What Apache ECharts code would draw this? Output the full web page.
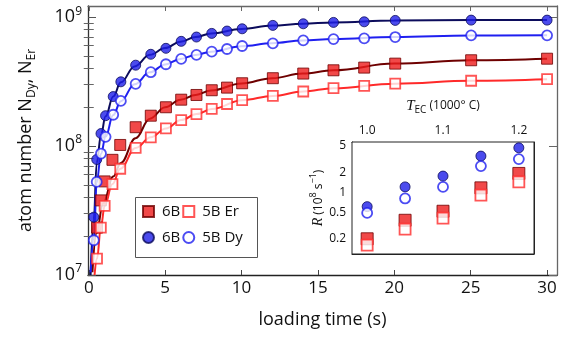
<!DOCTYPE html>
<html><head><meta charset="utf-8">
<script src="https://cdn.jsdelivr.net/npm/echarts@6/dist/echarts.min.js"></script>
<style>html,body{margin:0;padding:0;background:#fff}#c{width:568px;height:337px}</style>
</head><body><div id="c"></div>
<script>
const FONT = "'Open Sans', sans-serif";
const SERIF = "'Liberation Serif', 'DejaVu Serif', serif";

// ---- main panel: loading curves ----
const tDy  = [0.33,0.52,0.8,1.1,1.6,2.1,3.07,4.06,5.05,6.05,7.05,8.05,9.05,10.04,12.05,14.04,16.02,18.03,20.06,25.03,30];
const dy6B = [2.81e7,7.87e7,1.25e8,1.72e8,2.42e8,3.15e8,4.24e8,5.15e8,5.73e8,6.49e8,7.01e8,7.48e8,7.80e8,8.12e8,8.63e8,8.88e8,9.10e8,9.20e8,9.43e8,9.48e8,9.48e8];
const dy5B = [1.86e7,5.27e7,8.75e7,1.18e8,1.75e8,2.24e8,3.04e8,3.74e8,4.31e8,4.74e8,5.09e8,5.40e8,5.66e8,5.97e8,6.26e8,6.61e8,6.76e8,6.85e8,7.01e8,7.22e8,7.22e8];
const tEr  = [0.54,0.79,1.04,1.55,2.06,3.07,4.06,5.05,6.05,7.05,8.05,9.05,10.04,12.05,14.04,16.02,18.03,20.06,25.03,30];
const er6B = [2.33e7,3.79e7,5.32e7,7.82e7,1.02e8,1.40e8,1.72e8,2.00e8,2.29e8,2.49e8,2.71e8,2.84e8,3.07e8,3.36e8,3.65e8,3.87e8,4.06e8,4.36e8,4.63e8,4.76e8];
const er5B = [1.34e7,2.33e7,3.44e7,5.07e7,6.67e7,9.68e7,1.17e8,1.37e8,1.59e8,1.77e8,1.94e8,2.12e8,2.27e8,2.45e8,2.65e8,2.81e8,2.93e8,3.05e8,3.21e8,3.30e8];

// fitted curves
const fitDyT   = [0.12,0.33,0.52,0.8,1.1,1.6,2.1,3,4,5,6,7,8,10,12,14,16,20,25,30];
const fit6BDy  = [1.0e7,2.7e7,7.4e7,1.22e8,1.70e8,2.42e8,3.12e8,4.15e8,5.1e8,5.75e8,6.45e8,7.0e8,7.48e8,8.1e8,8.6e8,8.88e8,9.1e8,9.4e8,9.48e8,9.5e8];
const fit5BDy  = [1.05e7,1.9e7,5.2e7,8.7e7,1.18e8,1.74e8,2.23e8,3.02e8,3.73e8,4.3e8,4.74e8,5.09e8,5.40e8,5.95e8,6.27e8,6.6e8,6.76e8,7.01e8,7.2e8,7.22e8];
const fitEr6BT = [0.24,0.5,0.94,1.6,2.1,3.06,4,5,6,7,8,10,12,14,16,20,25,30];
const fit6BEr  = [1.05e7,2.1e7,3.6e7,5.8e7,7.4e7,1.15e8,1.63e8,2.0e8,2.29e8,2.49e8,2.7e8,3.06e8,3.36e8,3.65e8,3.87e8,4.36e8,4.63e8,4.76e8];
const fitEr5BT = [0.38,0.54,0.79,1.04,1.55,2.06,3.07,4.06,5.05,6.05,7.05,8.05,10.04,12.05,14.04,16.02,20.06,25.03,30];
const fit5BEr  = [1.0e7,1.34e7,2.33e7,3.44e7,5.07e7,6.67e7,9.68e7,1.17e8,1.37e8,1.59e8,1.77e8,1.94e8,2.27e8,2.45e8,2.65e8,2.81e8,3.05e8,3.21e8,3.30e8];

// ---- inset: loading rate vs oven temperature ----
const tec   = [1.0,1.05,1.1,1.15,1.2];
const rDy6B = [0.61,1.21,1.76,3.52,4.69];
const rDy5B = [0.49,0.81,1.21,2.49,3.17];
const rEr6B = [0.20,0.38,0.52,1.17,1.93];
const rEr5B = [0.16,0.28,0.41,0.91,1.44];

// ---- ticks ----
const xTicks = [0,5,10,15,20,25,30];
const yMajor = [1e7,1e8,1e9];
const yMinor = [2e7,3e7,4e7,5e7,6e7,7e7,8e7,9e7,2e8,3e8,4e8,5e8,6e8,7e8,8e8,9e8];
const insetXTicks = [1.0,1.1,1.2];
const insetYLabels = [0.2,0.5,1,2,5];
const insetYMinor = [0.3,0.4,0.6,0.7,0.8,0.9,3,4];

const zip = (xs, ys) => xs.map((x, i) => [x, ys[i]]);

const NAVY = '#0c0c5c', BLUE = '#1f1ff0', MAROON = '#6e0000', RED = '#ff2a2a';
const FILLBLUE = '#1e1ee8', FILLRED = '#ee1c1c';

const mainX = {min: -0.05, max: 30.65};
const mainY = {min: 1e7, max: 1.22e9};
const insX = {min: 0.98, max: 1.22};
const insY = {min: 0.118, max: 5.74};

const noSplit = {show: false};
const legendCommon = {
  orient: 'horizontal', padding: 0, itemWidth: 11, itemHeight: 11, itemGap: 2, selectedMode: false,
  formatter: n => n.indexOf('6B') === 0 ? '6B' : n,
  textStyle: {fontSize: 15, color: '#111', fontFamily: FONT, padding: [0, 0, 0, 3]}
};
const option = {
  animation: false,
  backgroundColor: '#fff',
  textStyle: {fontFamily: FONT},
  grid: [
    {left: 88, top: 6, right: 11, bottom: 62, show: false},
    {left: 352, top: 142, width: 182, height: 112, show: true, backgroundColor: '#fff', borderColor: '#222', borderWidth: 1, z: 5}
  ],
  xAxis: [
    {gridIndex: 0, type: 'value', position: 'bottom', ...mainX,
      axisLine: {show: true, onZero: false, lineStyle: {color: '#222', width: 1.3}},
      axisTick: {show: true, inside: true, length: 5, customValues: xTicks, lineStyle: {color: '#444'}},
      axisLabel: {customValues: xTicks, fontSize: 17, color: '#111', margin: 5, fontFamily: FONT},
      splitLine: noSplit,
      name: 'loading time (s)', nameLocation: 'middle', nameGap: 36,
      nameTextStyle: {fontSize: 18, color: '#111', fontFamily: FONT}},
    {gridIndex: 0, type: 'value', position: 'top', ...mainX,
      axisLine: {show: true, onZero: false, lineStyle: {color: '#666', width: 1.3}},
      axisTick: {show: true, inside: true, length: 5, customValues: xTicks, lineStyle: {color: '#666'}},
      axisLabel: {show: false}, splitLine: noSplit},
    {gridIndex: 1, type: 'value', position: 'bottom', ...insX,
      axisLine: {show: true, onZero: false, lineStyle: {color: '#222'}},
      axisTick: {show: true, inside: true, length: 4, customValues: insetXTicks, lineStyle: {color: '#555'}},
      axisLabel: {show: false}, splitLine: noSplit},
    {gridIndex: 1, type: 'value', position: 'top', ...insX,
      axisLine: {show: true, onZero: false, lineStyle: {color: '#222'}},
      axisTick: {show: true, inside: true, length: 4, customValues: insetXTicks, lineStyle: {color: '#555'}},
      axisLabel: {customValues: insetXTicks, formatter: v => v.toFixed(1), fontSize: 12, color: '#111', margin: 5},
      splitLine: noSplit,
      name: '{t|T}{sub|EC}{n| (1000° C)}', nameLocation: 'middle', nameGap: 27,
      nameTextStyle: {rich: {
        t: {fontFamily: SERIF, fontStyle: 'italic', fontSize: 15, color: '#111', lineHeight: 18},
        sub: {fontFamily: FONT, fontSize: 10, color: '#111', lineHeight: 12, verticalAlign: 'bottom'},
        n: {fontFamily: FONT, fontSize: 12, color: '#111', lineHeight: 18}
      }}}
  ],
  yAxis: [
    {gridIndex: 0, type: 'log', position: 'left', ...mainY,
      axisLine: {show: true, onZero: false, lineStyle: {color: '#333', width: 1.3}},
      axisTick: {show: true, inside: true, length: 8, customValues: yMajor, lineStyle: {color: '#555'}},
      axisLabel: {customValues: yMajor, margin: 6,
        formatter: v => '{b|10}{s|' + Math.round(Math.log10(v)) + '}',
        rich: {b: {fontSize: 18, color: '#111', lineHeight: 24, fontFamily: FONT},
               s: {fontSize: 12, color: '#111', lineHeight: 14, verticalAlign: 'top', fontFamily: FONT}}},
      splitLine: noSplit,
      name: '{a|atom number N}{s|Dy}{a|, N}{s|Er}', nameLocation: 'middle', nameRotate: 90, nameGap: 50,
      nameTextStyle: {rich: {
        a: {fontSize: 18, color: '#111', lineHeight: 24, fontFamily: FONT},
        s: {fontSize: 12, color: '#111', lineHeight: 14, verticalAlign: 'bottom', fontFamily: FONT}
      }}},
    {gridIndex: 0, type: 'log', position: 'left', ...mainY,
      axisLine: {show: false},
      axisTick: {show: true, inside: true, length: 5, customValues: yMinor, lineStyle: {color: '#666'}},
      axisLabel: {show: false}, splitLine: noSplit},
    {gridIndex: 0, type: 'log', position: 'right', ...mainY,
      axisLine: {show: true, onZero: false, lineStyle: {color: '#666', width: 1.3}},
      axisTick: {show: true, inside: true, length: 8, customValues: yMajor, lineStyle: {color: '#666'}},
      axisLabel: {show: false}, splitLine: noSplit},
    {gridIndex: 0, type: 'log', position: 'right', ...mainY,
      axisLine: {show: false},
      axisTick: {show: true, inside: true, length: 5, customValues: yMinor, lineStyle: {color: '#666'}},
      axisLabel: {show: false}, splitLine: noSplit},
    {gridIndex: 1, type: 'log', position: 'left', ...insY,
      axisLine: {show: true, onZero: false, lineStyle: {color: '#222'}},
      axisTick: {show: true, inside: true, length: 5, customValues: insetYLabels, lineStyle: {color: '#555'}},
      axisLabel: {customValues: insetYLabels, fontSize: 12, color: '#111', margin: 6},
      splitLine: noSplit,
      name: '{i|R}{n| (10}{sup|8}{n| s}{sup|−1}{n|)}', nameLocation: 'middle', nameRotate: 90, nameGap: 24,
      nameTextStyle: {rich: {
        i: {fontFamily: SERIF, fontStyle: 'italic', fontSize: 14, color: '#111', lineHeight: 18},
        n: {fontFamily: FONT, fontSize: 12, color: '#111', lineHeight: 18},
        sup: {fontFamily: FONT, fontSize: 9, color: '#111', lineHeight: 10, verticalAlign: 'top'}
      }}},
    {gridIndex: 1, type: 'log', position: 'left', ...insY,
      axisLine: {show: false},
      axisTick: {show: true, inside: true, length: 3, customValues: insetYMinor, lineStyle: {color: '#666'}},
      axisLabel: {show: false}, splitLine: noSplit},
    {gridIndex: 1, type: 'log', position: 'right', ...insY,
      axisLine: {show: true, onZero: false, lineStyle: {color: '#222'}},
      axisTick: {show: true, inside: true, length: 5, customValues: insetYLabels.concat(insetYMinor), lineStyle: {color: '#666'}},
      axisLabel: {show: false}, splitLine: noSplit}
  ],
  legend: [
    Object.assign({data: ['6B Er', '5B Er'], left: 142, top: 204}, legendCommon),
    Object.assign({data: ['6B Dy', '5B Dy'], left: 142, top: 230}, legendCommon)
  ],
  graphic: [
    {type: 'rect', left: 135, top: 197, z: 3,
      shape: {width: 122, height: 60}, style: {fill: '#fff', stroke: '#555', lineWidth: 1}}
  ],
  series: [
    {type: 'line', xAxisIndex: 0, yAxisIndex: 0, data: zip(fitEr6BT, fit6BEr), showSymbol: false, smooth: 0.4, smoothMonotone: 'x', lineStyle: {color: MAROON, width: 2}, z: 2, silent: true},
    {type: 'line', xAxisIndex: 0, yAxisIndex: 0, data: zip(fitEr5BT, fit5BEr), showSymbol: false, smooth: 0.4, smoothMonotone: 'x', lineStyle: {color: RED, width: 2}, z: 2, silent: true},
    {type: 'line', xAxisIndex: 0, yAxisIndex: 0, data: zip(fitDyT, fit6BDy), showSymbol: false, smooth: 0.4, smoothMonotone: 'x', lineStyle: {color: NAVY, width: 2}, z: 2, silent: true},
    {type: 'line', xAxisIndex: 0, yAxisIndex: 0, data: zip(fitDyT, fit5BDy), showSymbol: false, smooth: 0.4, smoothMonotone: 'x', lineStyle: {color: BLUE, width: 2}, z: 2, silent: true},

    {name: '6B Er', type: 'scatter', xAxisIndex: 0, yAxisIndex: 0, data: zip(tEr, er6B), symbol: 'rect', symbolSize: 11, itemStyle: {color: FILLRED, borderColor: MAROON, borderWidth: 1}, z: 3},
    {name: '5B Er', type: 'scatter', xAxisIndex: 0, yAxisIndex: 0, data: zip(tEr, er5B), symbol: 'rect', symbolSize: 10, itemStyle: {color: '#fff', borderColor: RED, borderWidth: 1.8}, z: 3},
    {name: '6B Dy', type: 'scatter', xAxisIndex: 0, yAxisIndex: 0, data: zip(tDy, dy6B), symbol: 'circle', symbolSize: 10, itemStyle: {color: FILLBLUE, borderColor: NAVY, borderWidth: 1}, z: 3},
    {name: '5B Dy', type: 'scatter', xAxisIndex: 0, yAxisIndex: 0, data: zip(tDy, dy5B), symbol: 'circle', symbolSize: 10, itemStyle: {color: '#fff', borderColor: BLUE, borderWidth: 1.8}, z: 3},

    {type: 'scatter', xAxisIndex: 2, yAxisIndex: 4, data: zip(tec, rEr6B), symbol: 'rect', symbolSize: 12, itemStyle: {color: FILLRED, borderColor: MAROON, borderWidth: 1}, z: 6},
    {type: 'scatter', xAxisIndex: 2, yAxisIndex: 4, data: zip(tec, rEr5B), symbol: 'rect', symbolSize: 11, itemStyle: {color: '#fff', borderColor: RED, borderWidth: 1.8}, z: 6},
    {type: 'scatter', xAxisIndex: 2, yAxisIndex: 4, data: zip(tec, rDy6B), symbol: 'circle', symbolSize: 10, itemStyle: {color: FILLBLUE, borderColor: NAVY, borderWidth: 1}, z: 6},
    {type: 'scatter', xAxisIndex: 2, yAxisIndex: 4, data: zip(tec, rDy5B), symbol: 'circle', symbolSize: 10, itemStyle: {color: '#fff', borderColor: BLUE, borderWidth: 1.8}, z: 6}
  ]
};
const chart = echarts.init(document.getElementById('c'), null, {renderer: 'canvas'});
chart.setOption(option);
</script>
</body></html>
